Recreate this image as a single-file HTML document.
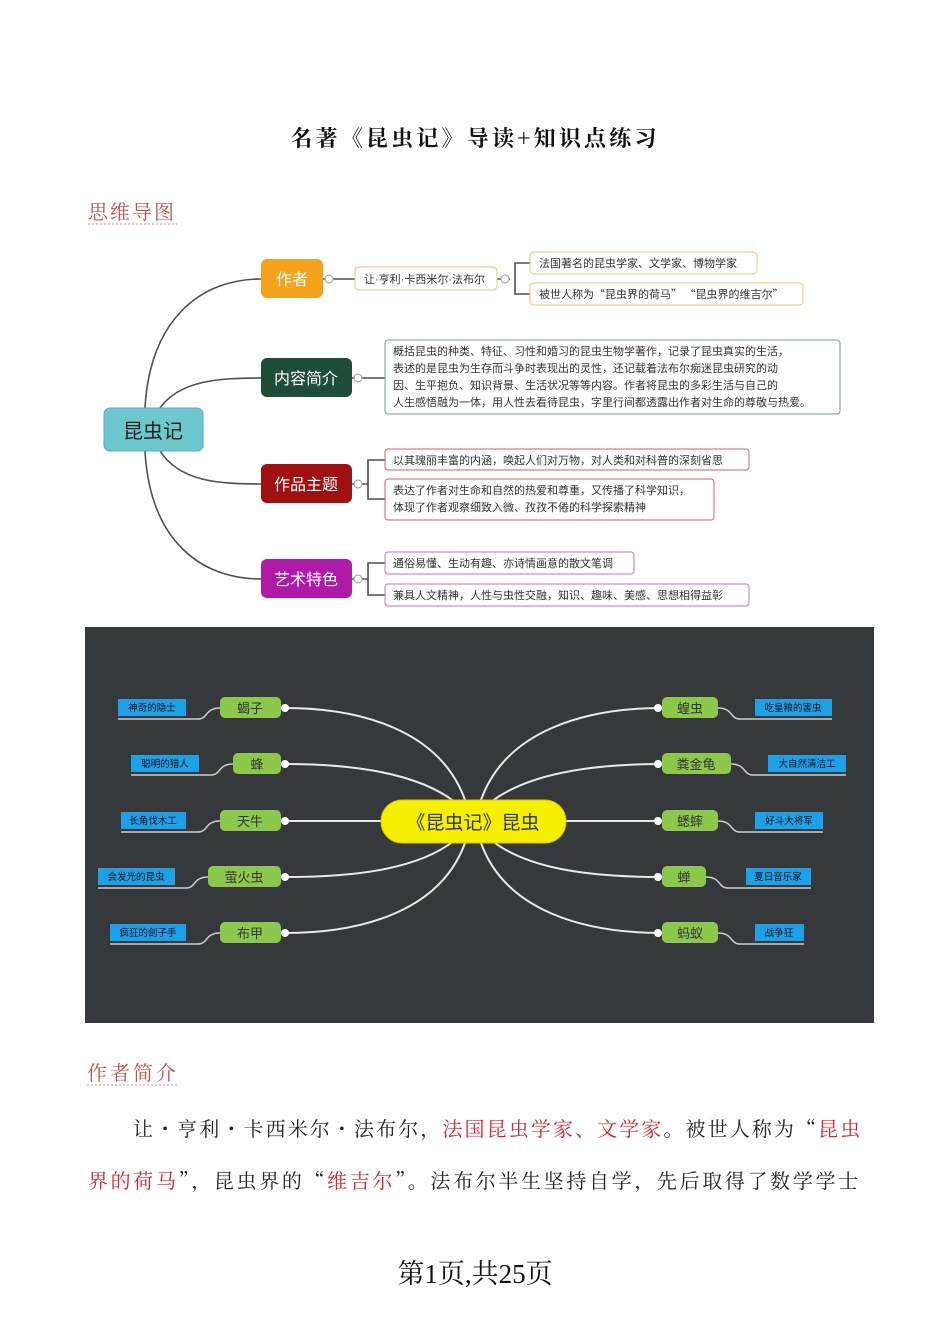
<!DOCTYPE html>
<html><head><meta charset="utf-8"><style>
body{margin:0;background:#fff;width:950px;height:1344px;overflow:hidden;position:relative}
svg{position:absolute;left:0;top:0}
.p{position:absolute;font-family:"Noto Serif CJK SC","Liberation Serif",serif;font-size:20px;white-space:nowrap;color:#222;letter-spacing:1.5px}
.r{color:#d9232e}
</style></head><body>
<svg width="950" height="1344" viewBox="0 0 950 1344" font-family="'Liberation Sans','Noto Sans CJK SC',sans-serif">
<text x="475" y="146" text-anchor="middle" font-family="'Noto Serif CJK SC',serif" font-weight="bold" font-size="22" fill="#111" letter-spacing="3.2">名著《昆虫记》导读+知识点练习</text>
<text x="88" y="219" font-family="'Noto Serif CJK SC',serif" font-size="20" fill="#c0504d" letter-spacing="2">思维导图</text>
<line x1="88" y1="224" x2="177" y2="224" stroke="#e8b0b0" stroke-width="1.5" stroke-dasharray="2,2"/>
<g fill="none" stroke="#4a4f55" stroke-width="1.6">
<path d="M145,408 C150,320 200,279 261,279"/>
<path d="M160,408 C180,380 220,378 261,378"/>
<path d="M160,451 C180,482 220,484 261,484"/>
<path d="M145,451 C150,540 200,579 261,579"/>
<path d="M323,279 H355"/>
<path d="M497,279 H510 M515,279 V263 H530 M515,279 V294 H530"/>
<path d="M352,378 H385"/>
<path d="M352,484 H368 M368,484 V460 H385 M368,484 V499 H385"/>
<path d="M352,579 H368 M368,579 V563 H385 M368,579 V595 H385"/>
</g>
<g fill="#fff" stroke="#999"><circle cx="329" cy="279" r="4"/><circle cx="505" cy="279" r="4"/><circle cx="358" cy="378" r="4"/><circle cx="358" cy="484" r="4"/><circle cx="358" cy="579" r="4"/></g>
<rect x="104" y="408" width="99" height="43" rx="6" fill="#6cc8cc" stroke="#5aa8c8"/>
<text x="153" y="438" text-anchor="middle" font-size="20" fill="#222">昆虫记</text>
<rect x="261" y="259" width="62" height="39" rx="6" fill="#f5a21c"/>
<text x="292" y="285" text-anchor="middle" font-size="16" fill="#fff">作者</text>
<rect x="261" y="358" width="91" height="39" rx="6" fill="#1e4d3a"/>
<text x="306" y="384" text-anchor="middle" font-size="16" fill="#fff">内容简介</text>
<rect x="261" y="464" width="91" height="39" rx="6" fill="#a01010"/>
<text x="306" y="490" text-anchor="middle" font-size="16" fill="#fff">作品主题</text>
<rect x="261" y="559" width="91" height="39" rx="6" fill="#b01aa8"/>
<text x="306" y="585" text-anchor="middle" font-size="16" fill="#fff">艺术特色</text>
<g font-size="11" fill="#333">
<rect x="355" y="267" width="142" height="23" rx="4" fill="#fff" stroke="#f3c170"/>
<text x="364" y="283">让·亨利·卡西米尔·法布尔</text>
<rect x="530" y="252" width="227" height="22" rx="4" fill="#fff" stroke="#f3c170"/>
<text x="539" y="267">法国著名的昆虫学家、文学家、博物学家</text>
<rect x="530" y="283" width="273" height="22" rx="4" fill="#fff" stroke="#f3c170"/>
<text x="539" y="298" font-family="'Noto Sans CJK SC',sans-serif">被世人称为“昆虫界的荷马” “昆虫界的维吉尔”</text>
<rect x="385" y="340" width="455" height="74" rx="3" fill="#fff" stroke="#7a9a8a"/>
<text x="393" y="355">概括昆虫的种类、特征、习性和婚习的昆虫生物学著作，记录了昆虫真实的生活，</text>
<text x="393" y="372">表述的是昆虫为生存而斗争时表现出的灵性，还记载着法布尔痴迷昆虫研究的动</text>
<text x="393" y="389">因、生平抱负、知识背景、生活状况等等内容。作者将昆虫的多彩生活与自己的</text>
<text x="393" y="406">人生感悟融为一体，用人性去看待昆虫，字里行间都透露出作者对生命的尊敬与热爱。</text>
<rect x="385" y="449" width="364" height="21" rx="3" fill="#fff" stroke="#d06060"/>
<text x="393" y="464">以其瑰丽丰富的内涵，唤起人们对万物，对人类和对科普的深刻省思</text>
<rect x="385" y="479" width="329" height="41" rx="3" fill="#fff" stroke="#d06060"/>
<text x="393" y="494">表达了作者对生命和自然的热爱和尊重，又传播了科学知识，</text>
<text x="393" y="511">体现了作者观察细致入微、孜孜不倦的科学探索精神</text>
<rect x="385" y="552" width="249" height="22" rx="3" fill="#fff" stroke="#c070c8"/>
<text x="393" y="567">通俗易懂、生动有趣、亦诗情画意的散文笔调</text>
<rect x="385" y="584" width="364" height="22" rx="3" fill="#fff" stroke="#c070c8"/>
<text x="393" y="599">兼具人文精神，人性与虫性交融，知识、趣味、美感、思想相得益彰</text>
</g>
<rect x="85" y="627" width="789" height="396" fill="#36393c"/>
<g fill="none" stroke="#e8e8e8" stroke-width="2">
<path d="M465,800 C440,730 360,708 285,708"/>
<path d="M455,802 C420,775 360,764 285,764"/>
<path d="M381,821 H285"/>
<path d="M455,840 C420,868 360,877 285,877"/>
<path d="M465,843 C440,912 360,933 285,933"/>
<path d="M481,800 C506,730 586,708 662,708"/>
<path d="M491,802 C526,775 586,764 662,764"/>
<path d="M566,821 H662"/>
<path d="M491,840 C526,868 586,877 662,877"/>
<path d="M481,843 C506,912 586,933 662,933"/>
</g>
<g fill="none" stroke="#ccc" stroke-width="1.5">
<path d="M220,708 C205,708 208,719 198,719 H118"/>
<path d="M233,764 C218,764 221,775 211,775 H131"/>
<path d="M220,821 C205,821 208,832 198,832 H121"/>
<path d="M208,877 C193,877 196,888 186,888 H98"/>
<path d="M220,933 C205,933 208,944 198,944 H110"/>
<path d="M718,708 C733,708 730,719 740,719 H832"/>
<path d="M731,764 C746,764 743,775 753,775 H846"/>
<path d="M718,821 C733,821 730,832 740,832 H823"/>
<path d="M706,877 C721,877 718,888 728,888 H811"/>
<path d="M718,933 C733,933 730,944 740,944 H804"/>
</g>
<rect x="381" y="800" width="185" height="43" rx="21" fill="#f5f000" stroke="#d8c000"/>
<text x="473" y="829" text-anchor="middle" font-size="19" fill="#333">《昆虫记》昆虫</text>
<g fill="#8cc84b">
<rect x="220" y="697" width="61" height="21" rx="5"/><rect x="233" y="753" width="48" height="21" rx="5"/><rect x="220" y="810" width="61" height="21" rx="5"/><rect x="208" y="866" width="73" height="21" rx="5"/><rect x="220" y="922" width="61" height="21" rx="5"/>
<rect x="662" y="697" width="56" height="21" rx="5"/><rect x="662" y="753" width="69" height="21" rx="5"/><rect x="662" y="810" width="56" height="21" rx="5"/><rect x="662" y="866" width="44" height="21" rx="5"/><rect x="662" y="922" width="56" height="21" rx="5"/>
</g>
<g fill="#fff"><circle cx="285" cy="708" r="4"/><circle cx="285" cy="764" r="4"/><circle cx="285" cy="821" r="4"/><circle cx="285" cy="877" r="4"/><circle cx="285" cy="933" r="4"/><circle cx="658" cy="708" r="4"/><circle cx="658" cy="764" r="4"/><circle cx="658" cy="821" r="4"/><circle cx="658" cy="877" r="4"/><circle cx="658" cy="933" r="4"/></g>
<g font-size="13" fill="#333" text-anchor="middle">
<text x="250" y="713">蝎子</text><text x="257" y="769">蜂</text><text x="250" y="826">天牛</text><text x="244" y="882">萤火虫</text><text x="250" y="938">布甲</text>
<text x="690" y="713">蝗虫</text><text x="696" y="769">粪金龟</text><text x="690" y="826">蟋蟀</text><text x="684" y="882">蝉</text><text x="690" y="938">蚂蚁</text>
</g>
<g fill="#1ea0e8">
<rect x="118" y="699" width="68" height="17"/><rect x="131" y="755" width="68" height="17"/><rect x="121" y="812" width="65" height="17"/><rect x="98" y="868" width="77" height="17"/><rect x="110" y="924" width="76" height="17"/>
<rect x="755" y="699" width="77" height="17"/><rect x="768" y="755" width="78" height="17"/><rect x="755" y="812" width="68" height="17"/><rect x="746" y="868" width="65" height="17"/><rect x="755" y="924" width="49" height="17"/>
</g>
<g font-size="9.5" fill="#111" text-anchor="middle">
<text x="152" y="711">神奇的隐士</text><text x="165" y="767">聪明的猎人</text><text x="153" y="824">长角伐木工</text><text x="136" y="880">会发光的昆虫</text><text x="148" y="936">疯狂的刽子手</text>
<text x="793" y="711">吃皇粮的害虫</text><text x="807" y="767">大自然清洁工</text><text x="789" y="824">好斗大将军</text><text x="778" y="880">夏日音乐家</text><text x="779" y="936">战争狂</text>
</g>
<text x="87" y="1080" font-family="'Noto Serif CJK SC',serif" font-size="20" fill="#c0504d" letter-spacing="3">作者简介</text>
<line x1="87" y1="1085" x2="179" y2="1085" stroke="#e8b0b0" stroke-width="1.5" stroke-dasharray="2,2"/>
<text x="475" y="1283" text-anchor="middle" font-family="'Liberation Serif','Noto Serif CJK SC',serif" font-size="27" fill="#111">第1页,共25页</text>
</svg>
<div class="p" style="left:133px;top:1113px;letter-spacing:2.1px">让・亨利・卡西米尔・法布尔，<span class="r">法国昆虫学家、文学家</span>。被世人称为“<span class="r">昆虫</span></div>
<div class="p" style="left:88px;top:1165px;letter-spacing:2.65px"><span class="r">界的荷马</span>”，昆虫界的“<span class="r">维吉尔</span>”。法布尔半生坚持自学，先后取得了数学学士</div>
</body></html>
